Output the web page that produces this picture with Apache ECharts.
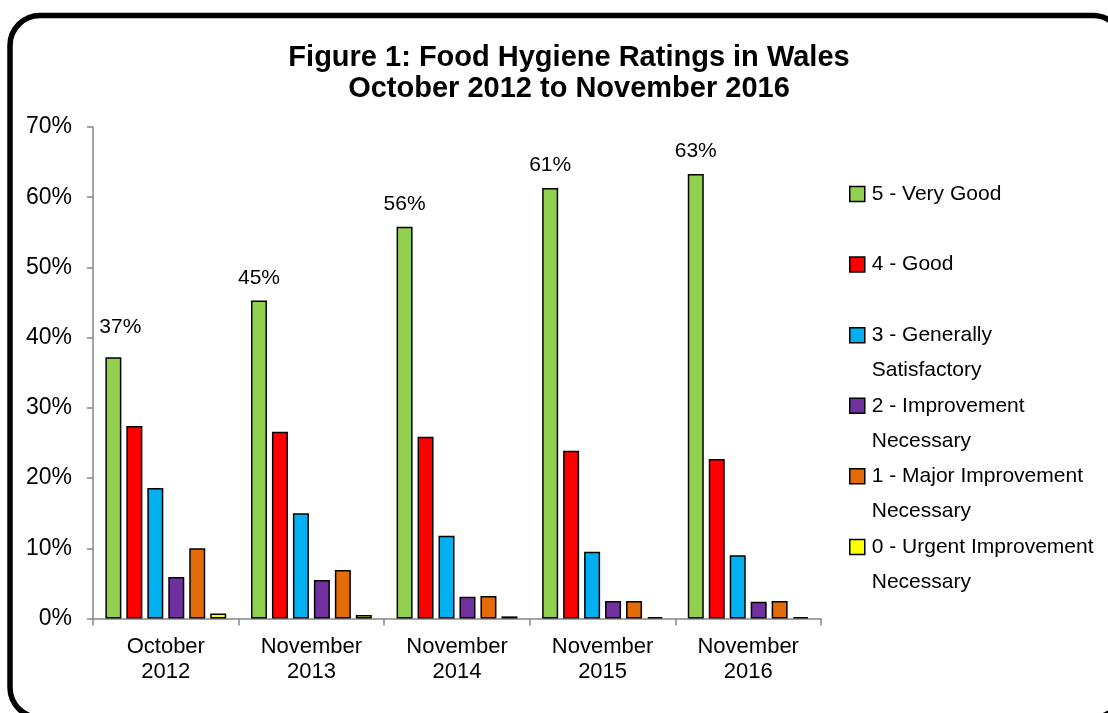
<!DOCTYPE html>
<html>
<head>
<meta charset="utf-8">
<script src="https://cdn.jsdelivr.net/npm/echarts@6/dist/echarts.min.js"></script>
<style>
html,body{margin:0;padding:0;background:#fff;}
#chart{width:1108px;height:713px;}
</style>
</head>
<body>
<div id="chart"></div>
<script>
var categories = ['October\n2012', 'November\n2013', 'November\n2014', 'November\n2015', 'November\n2016'];
var seriesNames = ['5 - Very Good', '4 - Good', '3 - Generally Satisfactory', '2 - Improvement Necessary', '1 - Major Improvement Necessary', '0 - Urgent Improvement Necessary'];
var legendLines = [['5 - Very Good'], ['4 - Good'], ['3 - Generally', 'Satisfactory'], ['2 - Improvement', 'Necessary'], ['1 - Major Improvement', 'Necessary'], ['0 - Urgent Improvement', 'Necessary']];
var veryGood = [37.2, 45.3, 55.8, 61.3, 63.3];
var good = [27.4, 26.6, 25.9, 23.9, 22.7];
var generallySatisfactory = [18.6, 15.0, 11.8, 9.5, 9.0];
var improvementNecessary = [5.9, 5.5, 3.1, 2.5, 2.4];
var majorImprovement = [10.0, 6.9, 3.2, 2.5, 2.5];
var urgentImprovement = [0.7, 0.5, 0.3, 0.2, 0.2];
var yTicks = [0, 10, 20, 30, 40, 50, 60, 70];

var colors = ['#92D050', '#FF0000', '#00B0F0', '#7030A0', '#E36C09', '#FFFF00'];
var valuesList = [veryGood, good, generallySatisfactory, improvementNecessary, majorImprovement, urgentImprovement];
var FONT = '"Liberation Sans", Arial, sans-serif';

var series = seriesNames.map(function (name, i) {
  var data = valuesList[i].map(function (v, j) {
    var d = { value: v };
    if (i === 0 && j === 0) {
      d.label = { offset: [7, -8] };
    }
    return d;
  });
  var s = {
    name: name,
    type: 'bar',
    data: data,
    barGap: '31%',
    barCategoryGap: '17%',
    itemStyle: { color: colors[i], borderColor: '#000', borderWidth: 1.5 },
    emphasis: { disabled: true }
  };
  if (i === 0) {
    s.label = {
      show: true,
      position: 'top',
      distance: 12,
      color: '#000',
      fontSize: 21,
      fontFamily: FONT,
      formatter: function (p) { return Math.round(p.value) + '%'; }
    };
  }
  return s;
});

var chart = echarts.init(document.getElementById('chart'), null, { renderer: 'canvas' });
chart.setOption({
  backgroundColor: '#fff',
  animation: false,
  title: {
    text: 'Figure 1: Food Hygiene Ratings in Wales\nOctober 2012 to November 2016',
    left: 569,
    top: 42,
    padding: 0,
    textAlign: 'center',
    textStyle: { fontFamily: FONT, fontWeight: 'bold', fontSize: 29, lineHeight: 31.5, color: '#000' }
  },
  legend: {
    orient: 'vertical',
    left: 849,
    top: 141,
    padding: 0,
    itemGap: -35.3,
    itemWidth: 15,
    itemHeight: 15,
    icon: 'rect',
    selectedMode: false,
    data: seriesNames,
    itemStyle: { borderColor: '#000', borderWidth: 1.5 },
    formatter: function (name) {
      var lines = legendLines[seriesNames.indexOf(name)];
      return '\n' + lines.join('\n') + (lines.length === 1 ? '\n' : '');
    },
    textStyle: { fontFamily: FONT, fontSize: 21, lineHeight: 35.3, color: '#000', padding: [0, 0, 0, 2] }
  },
  grid: { left: 93, right: 287, top: 127, bottom: 94.5, containLabel: false },
  xAxis: {
    type: 'category',
    data: categories,
    axisLine: { show: true, lineStyle: { color: '#868686', width: 1.5 } },
    axisTick: { show: true, length: 7, lineStyle: { color: '#868686', width: 1.5 } },
    axisLabel: { color: '#000', fontFamily: FONT, fontSize: 22, lineHeight: 25, margin: 16, interval: 0 },
    splitLine: { show: false }
  },
  yAxis: {
    type: 'value',
    min: yTicks[0],
    max: yTicks[yTicks.length - 1],
    interval: 10,
    axisLine: { show: true, lineStyle: { color: '#868686', width: 1.5 } },
    axisTick: { show: true, length: 6, lineStyle: { color: '#868686', width: 1.5 } },
    axisLabel: { color: '#000', fontFamily: FONT, fontSize: 23, margin: 21, formatter: '{value}%' },
    splitLine: { show: false }
  },
  graphic: [{
    type: 'rect',
    silent: true,
    z: 100,
    shape: { x: 10, y: 15.5, width: 1113, height: 702, r: 30 },
    style: { fill: 'none', stroke: '#000', lineWidth: 5.5 }
  }],
  series: series
});
</script>
</body>
</html>
